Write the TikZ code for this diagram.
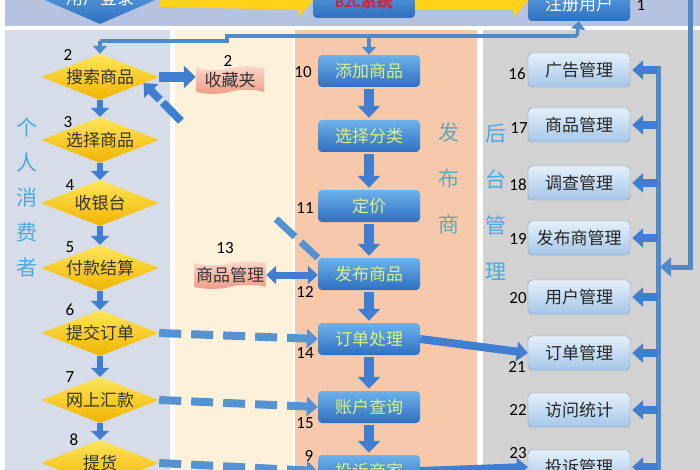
\documentclass[tikz,border=0pt]{standalone}
\usepackage{fontspec}
\setmainfont{Carlito}
\newfontfamily\cjk{Noto Sans CJK SC}
\usetikzlibrary{shapes.geometric,shapes.symbols,arrows.meta}

\definecolor{bandblue}{HTML}{B5C2E0}
\definecolor{userbg}{HTML}{D6DCE8}
\definecolor{favbg}{HTML}{FDF1DA}
\definecolor{shopbg}{HTML}{F7C9AA}
\definecolor{adminbg}{HTML}{D2D2D2}
\definecolor{linkblue}{HTML}{4F8BCB}
\definecolor{arrowblue}{HTML}{3F7ED0}
\definecolor{dashblue}{HTML}{5592D2}
\definecolor{goldtop}{HTML}{FFE65A}
\definecolor{goldbot}{HTML}{F0B400}
\definecolor{midtop}{HTML}{6CB2EC}
\definecolor{midbot}{HTML}{2F6FC0}
\definecolor{midtext}{HTML}{D8F27C}
\definecolor{admtop}{HTML}{E4F0FB}
\definecolor{admbot}{HTML}{A6C6E8}
\definecolor{pinktop}{HTML}{FBD8CC}
\definecolor{pinkbot}{HTML}{EE9C86}
\definecolor{labelblue}{HTML}{4AAAE0}
\definecolor{labelteal}{HTML}{5FA8B8}
\definecolor{b2cred}{HTML}{D8203C}
\definecolor{baryellow}{HTML}{FFD21A}

\tikzset{
  cjkfont/.style={font=\cjk\fontsize{17}{19}\selectfont},
  userstep/.style={diamond, aspect=2.6, minimum width=118pt, minimum height=46pt,
    inner sep=0pt, top color=goldtop, bottom color=goldbot, text=black!80, cjkfont},
  loginstep/.style={diamond, aspect=2.3, minimum width=120pt, minimum height=52pt,
    inner sep=0pt, top color=midtop, bottom color=midbot, text=white, cjkfont},
  titlebox/.style={rectangle, rounded corners=4pt, minimum width=102pt, minimum height=34pt,
    top color=midtop!80!midbot, bottom color=midbot},
  shopstep/.style={rectangle, rounded corners=4pt, minimum width=102pt, minimum height=32pt,
    top color=midtop, bottom color=midbot, text=midtext, cjkfont},
  adminstep/.style={rectangle, rounded corners=4pt, minimum width=102pt, minimum height=34pt,
    top color=admtop, bottom color=admbot, draw=admbot!75!black, line width=0.4pt,
    text=black!85, cjkfont},
  notebox/.style={tape, tape bend height=4pt, minimum width=68pt, minimum height=26pt,
    inner sep=2pt, top color=pinktop, bottom color=pinkbot, text=black!80, cjkfont},
  num/.style={font=\fontsize{17}{18}\selectfont, text=black},
  sidelabel/.style={align=center, inner sep=0pt},
  bararrow/.style={baryellow, line width=18pt, -{Triangle[width=32pt,length=14pt]}},
  linkline/.style={linkblue, line width=3.5pt},
  linktip/.style={linkblue, line width=3.5pt, -{Triangle[width=14pt,length=8pt]}},
  smalldown/.style={arrowblue, line width=6pt, -{Triangle[width=18pt,length=9pt]}},
  bigdown/.style={arrowblue, line width=10pt, -{Triangle[width=22pt,length=12pt]},
    shorten <=2pt, shorten >=2pt},
  busarrow/.style={arrowblue, line width=8pt, -{Triangle[width=19pt,length=11pt]}},
  dasharrow/.style={dashblue, line width=8pt, dash pattern=on 22pt off 10pt,
    -{Triangle[width=19pt,length=11pt]}},
}

\begin{document}
\begin{tikzpicture}[x=1pt,y=-1pt]
  \useasboundingbox (0,0) rectangle (700,470);
  \clip (0,0) rectangle (700,470);

  % lanes
  \fill[white] (0,0) rectangle (700,470);
  \fill[bandblue] (5,-5) rectangle (705,26);
  \fill[userbg] (5,30) rectangle (170,475);
  \fill[favbg] (175,30) rectangle (293,475);
  \fill[shopbg] (295,30) rectangle (477,475);
  \fill[adminbg] (483,30) rectangle (705,475);

  \node[sidelabel, text=labelblue, font=\cjk\fontsize{21}{35}\selectfont] at (27,198) {个\\人\\消\\费\\者};
  \node[sidelabel, text=labelteal, font=\cjk\fontsize{21}{46}\selectfont] at (449,178) {发\\布\\商};
  \node[sidelabel, text=labelblue, font=\cjk\fontsize{21}{46}\selectfont] at (496,202) {后\\台\\管\\理};

  % top band
  \node[loginstep] (login) at (100,-2) {用户登录};
  \node[titlebox, text=b2cred, font=\bfseries\fontsize{16}{18}\selectfont] (b2c) at (364,1) {B2C{\cjk 系统}};
  \node[titlebox, text=white, cjkfont] (reg) at (579,4) {注册用户};
  \node[num] at (641,5) {1};
  \draw[bararrow] (login.east) -- (b2c.west);
  \draw[bararrow] (b2c.east) -- (b2c.east -| reg.west);

  % consumer steps
  \node[userstep] (s2) at (100,77) {搜索商品};
  \node[userstep] (s3) at (100,140) {选择商品};
  \node[userstep] (s4) at (100,203) {收银台};
  \node[userstep] (s5) at (100,268) {付款结算};
  \node[userstep] (s6) at (100,333) {提交订单};
  \node[userstep] (s7) at (100,400) {网上汇款};
  \node[userstep] (s8) at (100,463) {提货};
  \node[num] at (68,55) {2};
  \node[num] at (68,122) {3};
  \node[num] at (70,185) {4};
  \node[num] at (70,247) {5};
  \node[num] at (70,310) {6};
  \node[num] at (70,377) {7};
  \node[num] at (74,440) {8};

  \draw[smalldown] (s2.south) -- (s3.north);
  \draw[smalldown] (s3.south) -- (s4.north);
  \draw[smalldown] (s4.south) -- (s5.north);
  \draw[smalldown] (s5.south) -- (s6.north);
  \draw[smalldown] (s6.south) -- (s7.north);
  \draw[smalldown] (s7.south) -- (s8.north);

  % notes
  \node[notebox] (fav) at (230,80) {收藏夹};
  \node[num] at (228,61) {2};
  \node[notebox] (pm) at (230,275) {商品管理};
  \node[num] at (225,248) {13};

  % publisher steps
  \node[shopstep] (add) at (369,71) {添加商品};
  \node[shopstep] (cat) at (369,136) {选择分类};
  \node[shopstep] (price) at (369,206) {定价};
  \node[shopstep] (pub) at (369,274) {发布商品};
  \node[shopstep] (order) at (369,339) {订单处理};
  \node[shopstep] (acct) at (369,407) {账户查询};
  \node[shopstep] (compl) at (369,471) {投诉商家};
  \node[num] at (303,72) {10};
  \node[num] at (305,208) {11};
  \node[num] at (305,292) {12};
  \node[num] at (305,353) {14};
  \node[num] at (305,423) {15};
  \node[num] at (309,456) {9};

  \draw[bigdown] (add.south) -- (cat.north);
  \draw[bigdown] (cat.south) -- (price.north);
  \draw[bigdown] (price.south) -- (pub.north);
  \draw[bigdown] (pub.south) -- (order.north);
  \draw[bigdown] (order.south) -- (acct.north);
  \draw[bigdown] (acct.south) -- (compl.north);

  % admin steps
  \node[adminstep] (r16) at (579,70) {广告管理};
  \node[adminstep] (r17) at (579,125) {商品管理};
  \node[adminstep] (r18) at (579,183) {调查管理};
  \node[adminstep] (r19) at (579,238) {发布商管理};
  \node[adminstep] (r20) at (579,297) {用户管理};
  \node[adminstep] (r21) at (579,353) {订单管理};
  \node[adminstep] (r22) at (579,410) {访问统计};
  \node[adminstep] (r23) at (579,467) {投诉管理};
  \node[num] at (517,74) {16};
  \node[num] at (519,128) {17};
  \node[num] at (518,185) {18};
  \node[num] at (518,239) {19};
  \node[num] at (518,298) {20};
  \node[num] at (517,367) {21};
  \node[num] at (518,410) {22};
  \node[num] at (518,453) {23};

  % links
  \coordinate (jreg) at (577,36);
  \coordinate (jstep) at (227,36);
  \coordinate (jsearch) at (100,41);
  \draw[linkline] (jsearch) -- (jsearch -| jstep) -- (jstep) -- (jreg);
  \draw[linktip] (jreg) -- (reg.south);
  \draw[linktip] (jsearch) -- (s2.north);
  \draw[linktip] (jstep -| add.north) -- (add.north);

  \draw[busarrow, line width=10pt, -{Triangle[width=22pt,length=12pt]}] (s2.east) -- (s2.east -| fav.west);
  \coordinate (favtail) at (181,121);
  \draw[busarrow, dash pattern=on 26pt off 4pt] (favtail) -- (s2.-8);
  \draw[busarrow, line width=7pt, {Triangle[width=18pt,length=10pt]}-{Triangle[width=18pt,length=10pt]}]
    (pm.east) -- (pm.east -| pub.west);
  \coordinate (pubtail) at (276,219);
  \draw[dashblue, line width=7pt, dash pattern=on 26pt off 8pt] (pubtail) -- (pub.north west);

  \draw[dasharrow] (s6.east) -- (order.west);
  \draw[dasharrow] (s7.east) -- (acct.west);
  \draw[dasharrow] (s8.east) -- (compl.west);
  \draw[busarrow] (order.east) -- (r21.west);
  \draw[busarrow] (compl.east) -- (r23.west);

  % admin bus
  \coordinate (bustop) at (658,66);
  \coordinate (busbot) at (658,480);
  \coordinate (outtop) at (690,-5);
  \coordinate (outbend) at (690,267);
  \draw[linkblue, line width=5pt] (bustop) -- (busbot);
  \draw[linkblue, line width=5pt, line join=miter, -{Triangle[width=19pt,length=11pt]}, shorten >=2pt]
    (outtop) -- (outbend) -- (outbend -| bustop);
  \draw[busarrow, shorten >=2pt] (r16.east -| bustop) -- (r16.east);
  \draw[busarrow, shorten >=2pt] (r17.east -| bustop) -- (r17.east);
  \draw[busarrow, shorten >=2pt] (r18.east -| bustop) -- (r18.east);
  \draw[busarrow, shorten >=2pt] (r19.east -| bustop) -- (r19.east);
  \draw[busarrow, shorten >=2pt] (r20.east -| bustop) -- (r20.east);
  \draw[busarrow, shorten >=2pt] (r21.east -| bustop) -- (r21.east);
  \draw[busarrow, shorten >=2pt] (r22.east -| bustop) -- (r22.east);
  \draw[busarrow, shorten >=2pt] (r23.east -| bustop) -- (r23.east);
\end{tikzpicture}
\end{document}
